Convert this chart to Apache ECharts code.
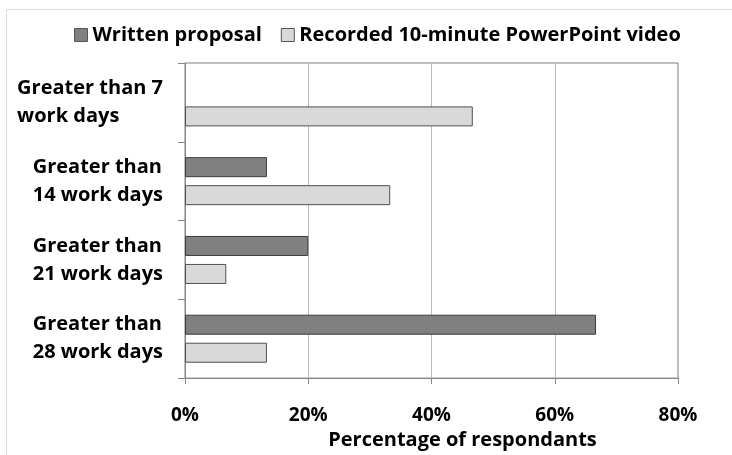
<!DOCTYPE html>
<html><head><meta charset="utf-8">
<script src="https://cdn.jsdelivr.net/npm/echarts@6/dist/echarts.min.js"></script>
<style>html,body{margin:0;padding:0;background:#fff}#c{width:732px;height:455px}</style>
</head><body><div id="c"></div>
<script>
const categories = ['Greater than 7\nwork days', 'Greater than\n14 work days', 'Greater than\n21 work days', 'Greater than\n28 work days'];
const seriesNames = ['Written proposal', 'Recorded 10-minute PowerPoint video'];
const writtenValues = [0, 13.3, 20, 66.7];
const recordedValues = [46.7, 33.3, 6.7, 13.3];
const xTicks = [0, 20, 40, 60, 80];

const font = '"Open Sans", sans-serif';
const toData = arr => arr.map(v => v === 0 ? {value: v, itemStyle: {borderWidth: 0}} : v);
const chart = echarts.init(document.getElementById('c'));
chart.setOption({
  animation: false,
  graphic: [{type: 'rect', shape: {x: 6.5, y: 9.5, width: 800, height: 600}, style: {fill: 'none', stroke: '#dcdcd4', lineWidth: 1}, silent: true, z: -10}],
  legend: {
    top: 25, left: 74, padding: 0,
    itemWidth: 13, itemHeight: 13, itemGap: 19,
    icon: 'rect',
    itemStyle: {borderWidth: 1, borderColor: '#555'},
    textStyle: {fontFamily: font, fontWeight: 'bold', fontSize: 20, color: '#000'},
    data: seriesNames
  },
  grid: {left: 185, right: 54, top: 63, bottom: 75, show: true, borderColor: '#808080', borderWidth: 1, backgroundColor: 'transparent'},
  xAxis: {
    type: 'value', min: xTicks[0], max: xTicks[xTicks.length - 1], interval: 20,
    axisLine: {show: true, lineStyle: {color: '#888'}},
    axisTick: {show: true, length: 6, lineStyle: {color: '#888'}},
    splitLine: {show: true, lineStyle: {color: '#bbb'}},
    axisLabel: {formatter: v => v + '%', margin: 28, fontFamily: font, fontWeight: 'bold', fontSize: 19, color: '#000'},
    name: 'Percentage of respondants', nameLocation: 'middle', nameGap: 46,
    nameTextStyle: {fontFamily: font, fontWeight: 'bold', fontSize: 20, color: '#000', padding: [0, 0, 0, 62]}
  },
  yAxis: {
    type: 'category', inverse: true, data: categories,
    axisLine: {show: true, lineStyle: {color: '#888'}},
    axisTick: {show: true, length: 7, lineStyle: {color: '#888'}},
    axisLabel: {
      margin: 22, align: 'right', lineHeight: 28,
      formatter: v => v.split('\n').map(s => '{a|' + s + '}').join('\n'),
      rich: {a: {align: 'left', fontFamily: font, fontWeight: 'bold', fontSize: 20, color: '#000', lineHeight: 28}}
    }
  },
  series: [
    {name: seriesNames[0], type: 'bar', data: toData(writtenValues), barWidth: 20, barGap: '40%',
     itemStyle: {color: '#808080', borderColor: '#3c3c3c', borderWidth: 1}},
    {name: seriesNames[1], type: 'bar', data: toData(recordedValues), barWidth: 20, barGap: '40%',
     itemStyle: {color: '#d9d9d9', borderColor: '#505050', borderWidth: 1}}
  ]
});
</script></body></html>
